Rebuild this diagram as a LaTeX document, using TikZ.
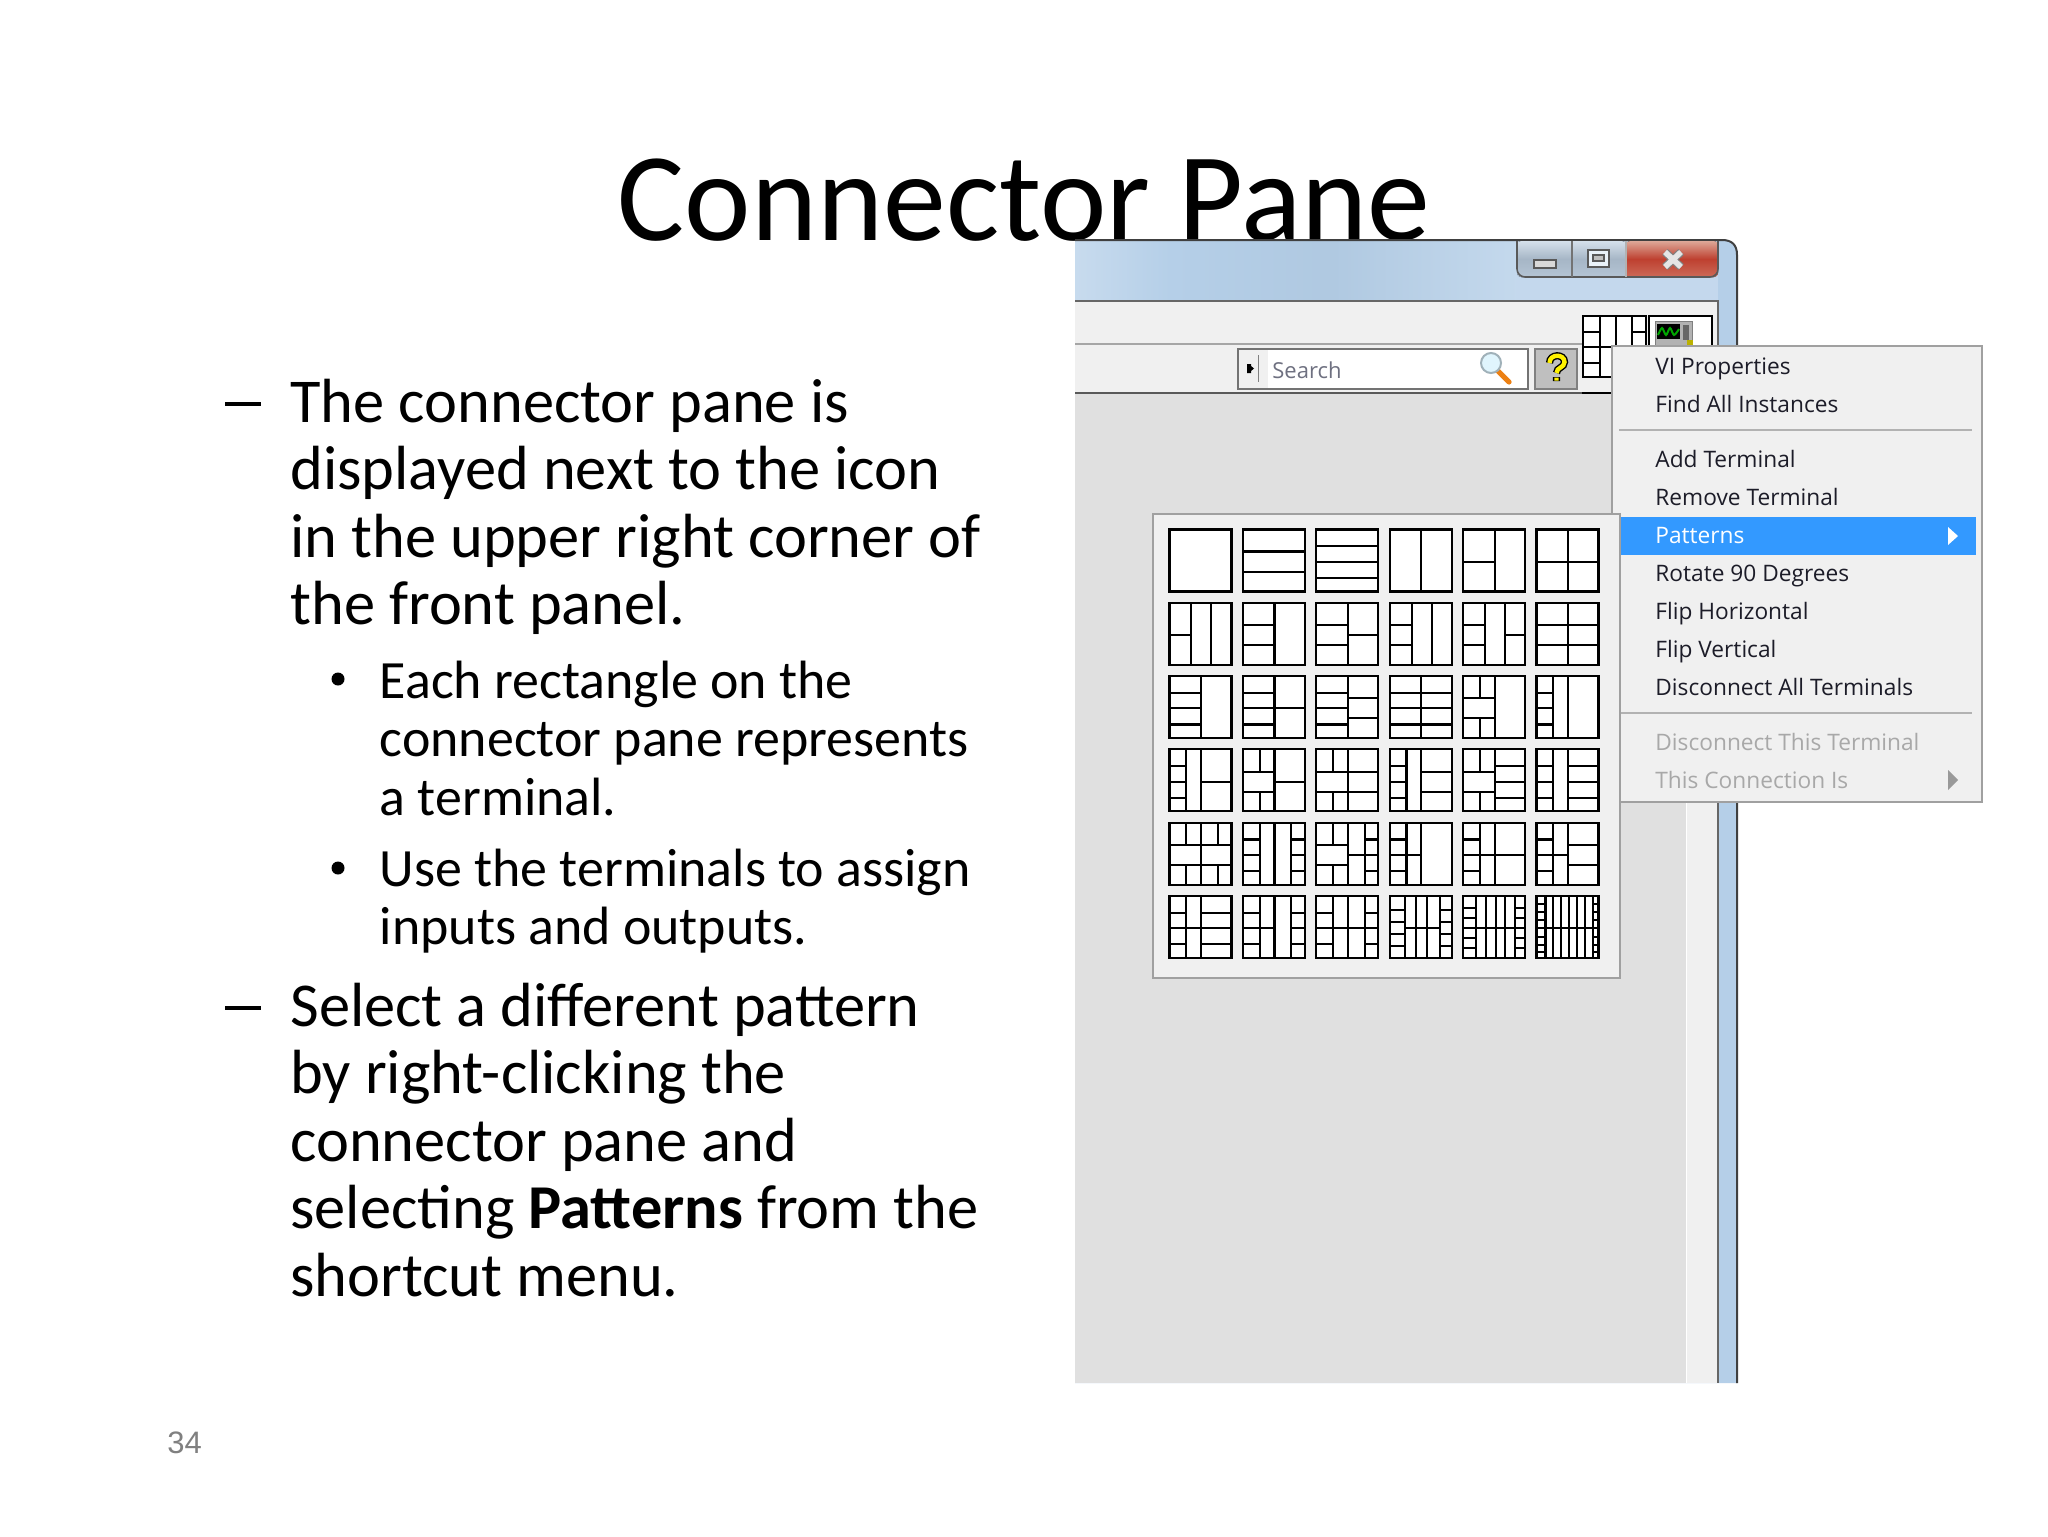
\documentclass[tikz,border=0pt]{standalone}
\usepackage{fontspec}
\setmainfont{Carlito}
\newfontfamily\menufont{Open Sans}
\newfontfamily\numfont{Liberation Sans}
\newcommand\Vx[3]{(#1,#2)--(#1,#3)}
\newcommand\Hx[3]{(#2,#1)--(#3,#1)}
\newcommand\LA{\Hx{.27}{0}{.51} \Hx{.52}{0}{.51} \Hx{.78}{0}{.51}}
\newcommand\LB{\Hx{.36}{0}{.51} \Hx{.68}{0}{.51}}
\newcommand\LC{\Hx{.27}{0}{.27} \Hx{.52}{0}{.27} \Hx{.78}{0}{.27}}
\newcommand\LD{\Vx{.27}{0}{.36} \Vx{.27}{.68}{1}}
\newcommand\RA{\Hx{.27}{.51}{1} \Hx{.52}{.51}{1} \Hx{.78}{.51}{1}}
\newcommand\RB{\Hx{.36}{.51}{1} \Hx{.68}{.51}{1}}
\newcommand\RC{\Hx{.52}{.51}{1}}
\newcommand\RD{\Hx{.27}{.78}{1} \Hx{.52}{.78}{1} \Hx{.78}{.78}{1}}
\newcommand\Cellp[3]{%
  \begin{scope}[shift={({1169.5+73.4*(#1)},{529.5+73.3*(#2)})},x=31pt,y=-31pt]
    \fill[white] (0,0) rectangle (1,1);
    \draw[patline] #3 (0,0) rectangle (1,1);
  \end{scope}}
\tikzset{
  patline/.style={line width=1.05pt,draw=black},
  bodyone/.style={anchor=base west,inner sep=0pt,font=\fontsize{31.2}{31.2}\selectfont,text=black},
  bodytwo/.style={anchor=base west,inner sep=0pt,font=\fontsize{26.95}{26.95}\selectfont,text=black},
  menuitem/.style={anchor=base west,inner sep=0pt,font=\menufont\fontsize{11.35}{11.35}\selectfont}
}
\definecolor{menubg}{HTML}{F0F0F0}
\definecolor{menuedge}{HTML}{A0A0A0}
\definecolor{panelbg}{HTML}{E0E0E0}
\definecolor{barblue}{HTML}{B5CFE8}
\definecolor{hilite}{HTML}{3399FF}
\definecolor{ink}{HTML}{1C1C28}
\definecolor{dim}{HTML}{A8A8A8}
\definecolor{btnA}{HTML}{D5E0EB}
\definecolor{btnB}{HTML}{A6B6C6}
\definecolor{btnC}{HTML}{B4C4D4}
\definecolor{redA}{HTML}{DDA898}
\definecolor{redB}{HTML}{BE4030}
\definecolor{redC}{HTML}{CC6A58}
\definecolor{searchgray}{HTML}{6E7080}
\begin{document}
\begin{tikzpicture}[x=0.5pt,y=-0.5pt]
\useasboundingbox (0,0) rectangle (2048,1536);
\fill[white] (0,0) rectangle (2048,1536);
% title
\node[anchor=base,inner sep=0pt,font=\fontsize{62.9}{62.9}\selectfont] (title) at (1024,240) {Connector Pane};
% window
\fill[barblue] (1075,240) -- (1722,240) .. controls (1732,240) and (1737,245) .. (1737,255) -- (1737,1383) -- (1075,1383) -- cycle;
\shade[left color=barblue!75!white,right color=barblue] (1075,241) rectangle (1170,300);
\shade[left color=barblue,right color=barblue!97!black] (1170,241) rectangle (1330,300);
\shade[left color=barblue!97!black,right color=barblue!80!white] (1330,241) rectangle (1516,300);
\fill[barblue!80!white] (1516,241) rectangle (1718,300);
\draw[line width=1pt,draw=black!75] (1075,240) -- (1722,240) .. controls (1732,240) and (1737,245) .. (1737,255) -- (1737,1383);
\fill[panelbg] (1075,393) rectangle (1686,1383);
\fill[menubg] (1686,302) rectangle (1718,1383);
\fill[menubg] (1075,302) rectangle (1718,393);
\draw[line width=.5pt,draw=white] (1686,393) -- (1686,1383);
\draw[line width=1pt,draw=black!60] (1075,301) -- (1718,301) -- (1718,1383);
\draw[line width=1pt,draw=black!35] (1075,344) -- (1582,344);
\draw[line width=1pt,draw=black!65] (1075,393) -- (1582,393);
\draw[line width=1pt,draw=black] (1582,393) -- (1620,393);
% caption buttons
\fill[top color=btnA,bottom color=btnC,middle color=btnB,rounded corners=2pt] (1517,241) rectangle (1626,277);
\fill[top color=redA,bottom color=redC,middle color=redB,rounded corners=2pt] (1626,241) rectangle (1718,277);
\draw[line width=.8pt,draw=black!65,rounded corners=4pt] (1517,241) -- (1517,277) -- (1718,277) -- (1718,241);
\draw[line width=.6pt,draw=black!55] (1572,241) -- (1572,277);
\draw[line width=.6pt,draw=white!70!black] (1626,241) -- (1626,277);
\fill[white!85!black,draw=black!65,line width=.8pt] (1534,260) rectangle (1556,268);
\draw[draw=black!65,fill=white!70!barblue,line width=.8pt] (1588,250) rectangle (1609,267);
\draw[draw=black!65,fill=black!25,line width=.6pt] (1593,255) rectangle (1604,261);
\draw[line width=4pt,draw=black!50] (1665,252)--(1681,267) (1681,252)--(1665,267);
\draw[line width=2.8pt,draw=white!90!black] (1665,252)--(1681,267) (1681,252)--(1665,267);
% search
\fill[white] (1238,349) rectangle (1528,389);
\fill[menubg] (1238,349) rectangle (1268,389);
\draw[line width=1pt,draw=black!55] (1238,349) rectangle (1528,389);
\draw[line width=.5pt,draw=black!50] (1258,355) -- (1258,382);
\fill[black] (1247,364) rectangle (1251,373) (1251,366) -- (1254,368.5) -- (1251,371) -- cycle;
\node[anchor=base west,inner sep=0pt,font=\menufont\fontsize{11}{11}\selectfont,text=searchgray] (searchlabel) at (1272,378) {Search};
\draw[line width=2.6pt,line cap=round,draw=orange!70!brown] (1498,371) -- (1509,382);
\draw[line width=1pt,draw=black!30!cyan!30!gray!70,fill=cyan!12!white] (1491,363) circle (10);
% help button
\fill[black!25,draw=black!50,line width=1pt] (1535,349) rectangle (1577,389);
\draw[line width=3.6pt,draw=black] (1549.5,363) .. controls (1549.5,353.5) and (1564.5,353.5) .. (1564.5,362) .. controls (1564.5,368) and (1556.5,367) .. (1556.5,373) (1556.5,377) -- (1556.5,381);
\draw[line width=2.2pt,draw=yellow] (1549.5,363) .. controls (1549.5,353.5) and (1564.5,353.5) .. (1564.5,362) .. controls (1564.5,368) and (1556.5,367) .. (1556.5,373) (1556.5,377.5) -- (1556.5,380.5);
% connector pane small
\fill[white] (1583,316) rectangle (1647,378);
\draw[line width=1pt] (1583,316) rectangle (1646,377);
\draw[line width=1pt] (1600,316) -- (1600,377) (1616,316) -- (1616,377) (1632,316) -- (1632,345)
  (1583,332) -- (1600,332) (1583,347) -- (1616,347) (1583,363) -- (1600,363) (1632,332) -- (1646,332);
% icon
\fill[white] (1649,316) rectangle (1712,346);
\draw[line width=1pt] (1649,346) -- (1649,316) -- (1712,316) -- (1712,346);
\fill[black!30!white,draw=black!50,line width=.5pt] (1655,321) rectangle (1692,346);
\fill[black] (1657,324) rectangle (1680,339);
\fill[black!60] (1683,325) rectangle (1689,340);
\draw[line width=1pt,draw=green!65!black] plot[smooth] coordinates {(1658,335) (1662,328) (1666,335) (1670,328) (1674,335) (1679,329)};
\fill[olive!60!yellow] (1687,340) rectangle (1693,346);
% menu
\fill[menubg,draw=menuedge,line width=1pt] (1612,346) rectangle (1982,802);
\fill[hilite] (1621,517) rectangle (1976,555);
\draw[line width=.8pt,draw=black!30] (1619,430) -- (1972,430);
\draw[line width=.8pt,draw=black!30] (1621,713) -- (1972,713);
\fill[white] (1948,527) -- (1958,536) -- (1948,545) -- cycle;
\fill[black!40] (1948,770) -- (1958,780) -- (1948,790) -- cycle;
\node[menuitem,text=ink] (m1) at (1655,374) {VI Properties};
\node[menuitem,text=ink] (m2) at (1655,412) {Find All Instances};
\node[menuitem,text=ink] (m3) at (1655,467) {Add Terminal};
\node[menuitem,text=ink] (m4) at (1655,505) {Remove Terminal};
\node[menuitem,text=white] (m5) at (1655,543) {Patterns};
\node[menuitem,text=ink] (m6) at (1655,581) {Rotate 90 Degrees};
\node[menuitem,text=ink] (m7) at (1655,619) {Flip Horizontal};
\node[menuitem,text=ink] (m8) at (1655,657) {Flip Vertical};
\node[menuitem,text=ink] (m9) at (1655,695) {Disconnect All Terminals};
\node[menuitem,text=dim] (m10) at (1655,750) {Disconnect This Terminal};
\node[menuitem,text=dim] (m11) at (1655,788) {This Connection Is};
% palette
\fill[menubg,draw=menuedge,line width=1pt] (1153,514) rectangle (1620,978);
% patterns
\Cellp{0}{0}{}
\Cellp{1}{0}{\Hx{.355}{0}{1} \Hx{.68}{0}{1}}
\Cellp{2}{0}{\Hx{.26}{0}{1} \Hx{.52}{0}{1} \Hx{.78}{0}{1}}
\Cellp{3}{0}{\Vx{.51}{0}{1}}
\Cellp{4}{0}{\Vx{.51}{0}{1} \Hx{.52}{0}{.51}}
\Cellp{5}{0}{\Vx{.51}{0}{1} \Hx{.52}{0}{1}}
\Cellp{0}{1}{\Vx{.35}{0}{1} \Vx{.67}{0}{1} \Hx{.52}{0}{.35}}
\Cellp{1}{1}{\Vx{.51}{0}{1} \LB}
\Cellp{2}{1}{\Vx{.51}{0}{1} \LB \RC}
\Cellp{3}{1}{\Vx{.36}{0}{1} \Vx{.68}{0}{1} \Hx{.36}{0}{.36} \Hx{.68}{0}{.36}}
\Cellp{4}{1}{\Vx{.36}{0}{1} \Vx{.67}{0}{1} \Hx{.36}{0}{.36} \Hx{.68}{0}{.36} \Hx{.52}{.67}{1}}
\Cellp{5}{1}{\Vx{.51}{0}{1} \Hx{.36}{0}{1} \Hx{.68}{0}{1}}
\Cellp{0}{2}{\Vx{.51}{0}{1} \LA}
\Cellp{1}{2}{\Vx{.51}{0}{1} \LA \RC}
\Cellp{2}{2}{\Vx{.51}{0}{1} \LA \RB}
\Cellp{3}{2}{\Vx{.51}{0}{1} \LA \RA}
\Cellp{4}{2}{\Vx{.51}{0}{1} \LB \LD}
\Cellp{5}{2}{\Vx{.27}{0}{1} \Vx{.51}{0}{1} \LC}
\Cellp{0}{3}{\Vx{.27}{0}{1} \Vx{.51}{0}{1} \LC \RC}
\Cellp{1}{3}{\Vx{.51}{0}{1} \LB \LD \RC}
\Cellp{2}{3}{\Vx{.51}{0}{1} \Hx{.36}{0}{1} \Hx{.68}{0}{1} \LD}
\Cellp{3}{3}{\Vx{.27}{0}{1} \Vx{.51}{0}{1} \LC \RB}
\Cellp{4}{3}{\Vx{.51}{0}{1} \LB \LD \RA}
\Cellp{5}{3}{\Vx{.27}{0}{1} \Vx{.51}{0}{1} \LC \RA}
\Cellp{0}{4}{\Vx{.51}{0}{1} \Hx{.36}{0}{1} \Hx{.68}{0}{1} \LD \Vx{.78}{0}{.36} \Vx{.78}{.68}{1}}
\Cellp{1}{4}{\Vx{.27}{0}{1} \Vx{.51}{0}{1} \Vx{.78}{0}{1} \LC \RD}
\Cellp{2}{4}{\Vx{.51}{0}{1} \Vx{.78}{0}{1} \LB \LD \Hx{.52}{.51}{.78} \RD}
\Cellp{3}{4}{\Vx{.27}{0}{1} \Vx{.51}{0}{1} \LC \Hx{.52}{.27}{.51}}
\Cellp{4}{4}{\Vx{.27}{0}{1} \Vx{.51}{0}{1} \LC \Hx{.52}{.27}{1}}
\Cellp{5}{4}{\Vx{.27}{0}{1} \Vx{.51}{0}{1} \LC \Hx{.52}{.27}{.51} \RB}
\Cellp{0}{5}{\Vx{.27}{0}{1} \Vx{.51}{0}{1} \LC \Hx{.52}{.27}{.51} \RA}
\Cellp{1}{5}{\Vx{.27}{0}{1} \Vx{.51}{0}{1} \Vx{.78}{0}{1} \LC \Hx{.52}{.27}{.51} \RD}
\Cellp{2}{5}{\Vx{.27}{0}{1} \Vx{.51}{0}{1} \Vx{.78}{0}{1} \LC \Hx{.52}{.27}{.78} \RD}
\Cellp{3}{5}{\Vx{.24}{0}{1} \Vx{.43}{0}{1} \Vx{.6}{0}{1} \Vx{.81}{0}{1} \Hx{.23}{0}{.24} \Hx{.42}{0}{.24} \Hx{.61}{0}{.24} \Hx{.81}{0}{.24} \Hx{.23}{.81}{1} \Hx{.42}{.81}{1} \Hx{.61}{.81}{1} \Hx{.81}{.81}{1} \Hx{.52}{.24}{.81}}
\Cellp{4}{5}{\Vx{.21}{0}{1} \Vx{.37}{0}{1} \Vx{.53}{0}{1} \Vx{.68}{0}{1} \Vx{.84}{0}{1} \Hx{.2}{0}{.21} \Hx{.36}{0}{.21} \Hx{.68}{0}{.21} \Hx{.84}{0}{.21} \Hx{.2}{.84}{1} \Hx{.36}{.84}{1} \Hx{.68}{.84}{1} \Hx{.84}{.84}{1} \Hx{.52}{0}{1}}
\Cellp{5}{5}{\Vx{.145}{0}{1} \Vx{.27}{0}{1} \Vx{.4}{0}{1} \Vx{.53}{0}{1} \Vx{.65}{0}{1} \Vx{.78}{0}{1} \Vx{.91}{0}{1} \Hx{.13}{0}{.145} \Hx{.26}{0}{.145} \Hx{.39}{0}{.145} \Hx{.66}{0}{.145} \Hx{.79}{0}{.145} \Hx{.91}{0}{.145} \Hx{.13}{.91}{1} \Hx{.26}{.91}{1} \Hx{.39}{.91}{1} \Hx{.66}{.91}{1} \Hx{.79}{.91}{1} \Hx{.91}{.91}{1} \Hx{.52}{0}{1}}
% body
\draw[line width=2pt] (225,404) -- (261,404);
\draw[line width=2pt] (225,1008) -- (261,1008);
\fill (338,679) circle (6.5);
\fill (338,868) circle (6.5);
\node[bodyone] (a1) at (290,422.5) {The connector pane is};
\node[bodyone] (a2) at (290,489.5) {displayed next to the icon};
\node[bodyone] (a3) at (290,557.5) {in the upper right corner of};
\node[bodyone] (a4) at (290,624.5) {the front panel.};
\node[bodytwo] (b1) at (379.5,698.5) {Each rectangle on the};
\node[bodytwo] (b2) at (379.5,756.5) {connector pane represents};
\node[bodytwo] (b3) at (379.5,815) {a terminal.};
\node[bodytwo] (c1) at (379.5,886.5) {Use the terminals to assign};
\node[bodytwo] (c2) at (379.5,944.5) {inputs and outputs.};
\node[bodyone] (d1) at (290,1026) {Select a different pattern};
\node[bodyone] (d2) at (290,1093) {by right-clicking the};
\node[bodyone] (d3) at (290,1161) {connector pane and};
\node[bodyone] (d4) at (290,1228) {selecting \textbf{Patterns} from the};
\node[bodyone] (d5) at (290,1296) {shortcut menu.};
\node[anchor=base west,inner sep=0pt,font=\numfont\fontsize{15.5}{15.5}\selectfont,text=black!50] (pageno) at (167,1453.5) {34};
\end{tikzpicture}
\end{document}
